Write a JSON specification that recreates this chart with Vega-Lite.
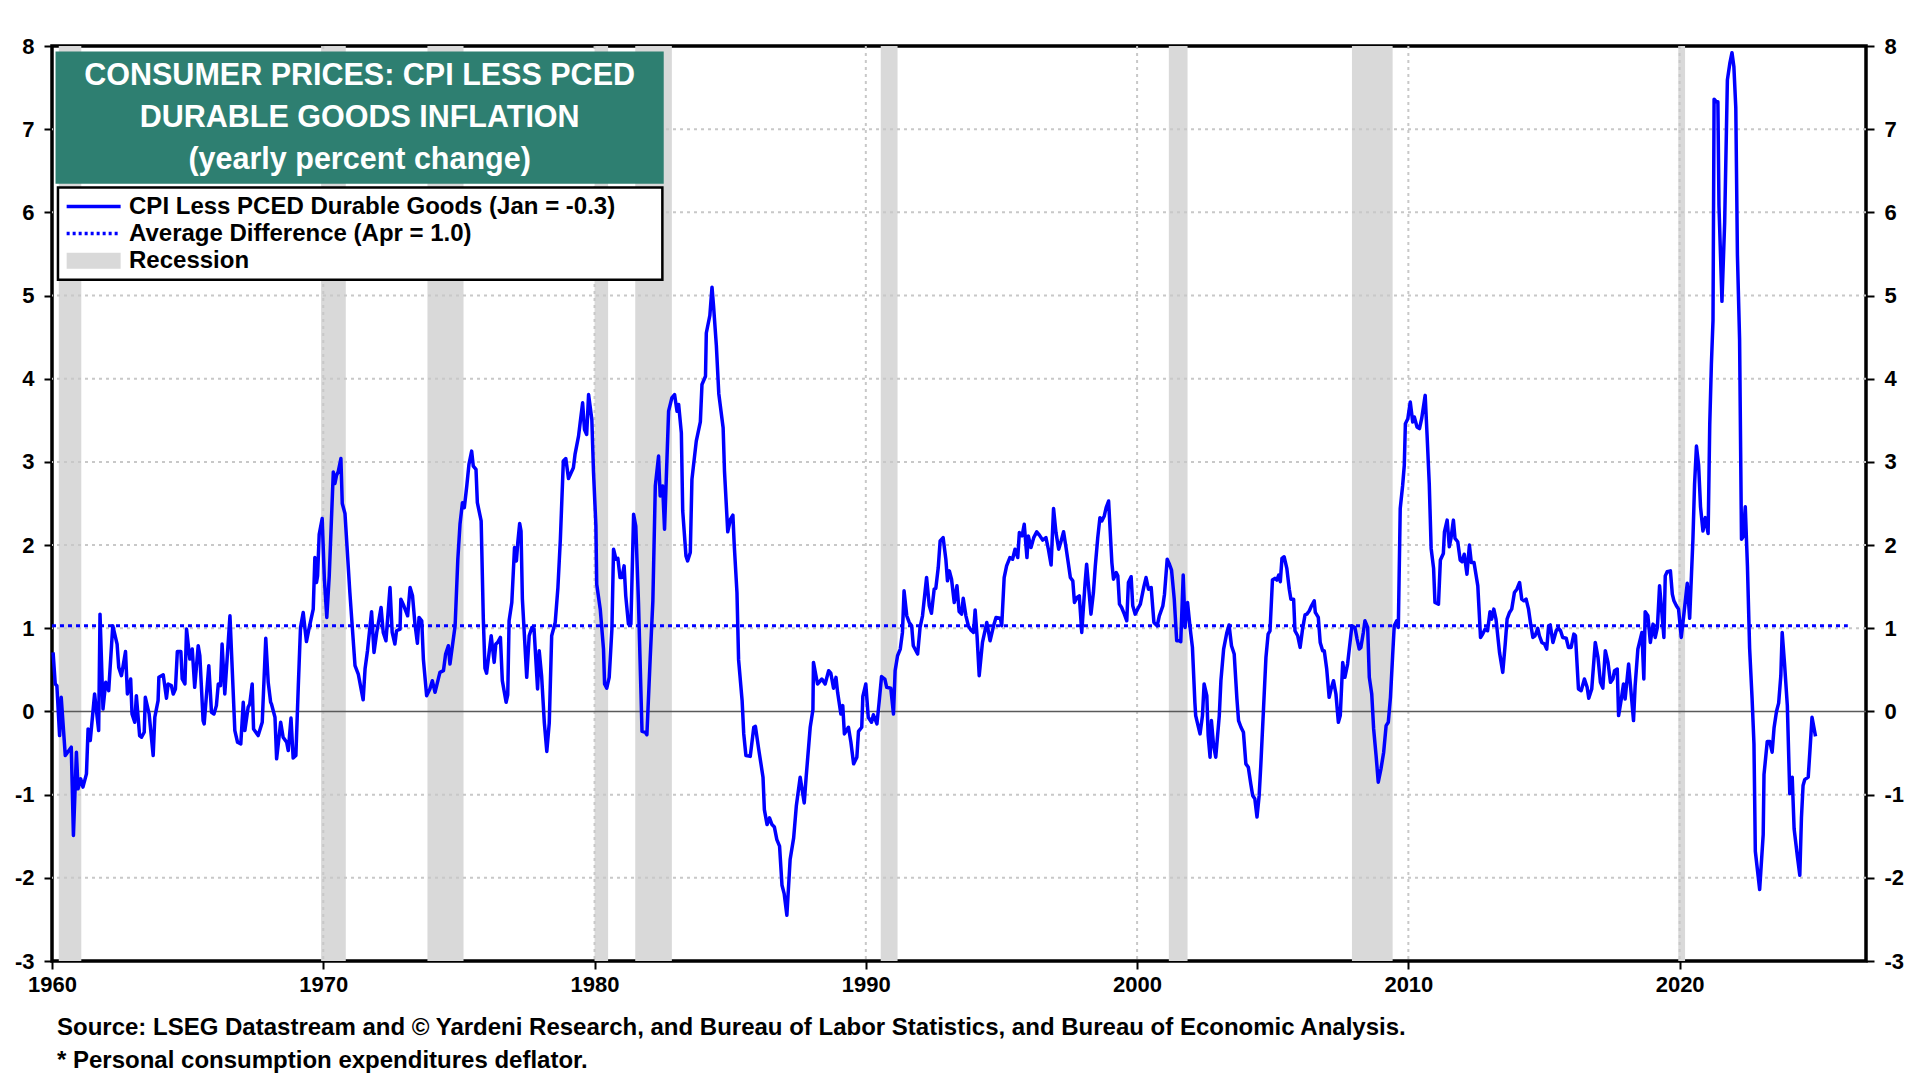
{
  "$schema": "https://vega.github.io/schema/vega-lite/v6.json",
  "width": 1814,
  "height": 915,
  "autosize": {"type": "none"},
  "padding": {"left": 52, "top": 46, "right": 54, "bottom": 119},
  "background": "white",
  "config": {
    "font": "Liberation Sans",
    "view": {"stroke": "#000000", "strokeWidth": 3.5},
    "axis": {
      "grid": false,
      "domain": false,
      "labelFlush": false,
      "labelFontSize": 22,
      "labelFontWeight": "bold",
      "labelColor": "#000000",
      "tickColor": "#000000",
      "tickWidth": 2,
      "tickSize": 8
    }
  },
  "title": {
    "text": [
      "Source: LSEG Datastream and © Yardeni Research, and Bureau of Labor Statistics, and Bureau of Economic Analysis.",
      "* Personal consumption expenditures deflator."
    ],
    "orient": "bottom",
    "anchor": "start",
    "frame": "group",
    "fontSize": 24,
    "fontWeight": "bold",
    "color": "#000000",
    "lineHeight": 33,
    "offset": 21,
    "dx": 5
  },
  "resolve": {"scale": {"y": "independent"}},
  "layer": [
    {
      "layer": [
        {
          "data": {
            "values": [
              {"start": 1960.25, "end": 1961.08},
              {"start": 1969.92, "end": 1970.83},
              {"start": 1973.84, "end": 1975.17},
              {"start": 1980.0, "end": 1980.5},
              {"start": 1981.5, "end": 1982.85},
              {"start": 1990.55, "end": 1991.17},
              {"start": 2001.17, "end": 2001.86},
              {"start": 2007.92, "end": 2009.42},
              {"start": 2019.95, "end": 2020.2}
            ]
          },
          "mark": {"type": "rect", "color": "#D9D9D9"},
          "encoding": {
            "x": {
              "field": "start",
              "type": "quantitative",
              "scale": {"domain": [1960, 2026.87], "nice": false, "zero": false},
              "axis": {
                "title": null,
                "values": [1960, 1970, 1980, 1990, 2000, 2010, 2020],
                "format": "d",
                "labelPadding": 5
              }
            },
            "x2": {"field": "end"}
          }
        },
        {
          "data": {"values": [{"g": 1970}, {"g": 1980}, {"g": 1990}, {"g": 2000}, {"g": 2010}, {"g": 2020}]},
          "mark": {"type": "rule", "color": "#C8C8C8", "strokeWidth": 2, "strokeDash": [3, 4]},
          "encoding": {"x": {"field": "g", "type": "quantitative"}}
        },
        {
          "data": {"values": [{"h": -2}, {"h": -1}, {"h": 1}, {"h": 2}, {"h": 3}, {"h": 4}, {"h": 5}, {"h": 6}, {"h": 7}]},
          "mark": {"type": "rule", "color": "#C8C8C8", "strokeWidth": 2, "strokeDash": [3, 4]},
          "encoding": {
            "y": {
              "field": "h",
              "type": "quantitative",
              "scale": {"domain": [-3, 8], "nice": false, "zero": false},
              "axis": {
                "title": null,
                "orient": "left",
                "values": [-3, -2, -1, 0, 1, 2, 3, 4, 5, 6, 7, 8],
                "labelExpr": "'' + datum.value",
                "labelPadding": 10
              }
            }
          }
        },
        {
          "data": {"values": [{}]},
          "mark": {"type": "rule", "color": "#5A5A5A", "strokeWidth": 1.5},
          "encoding": {"y": {"datum": 0}}
        },
        {
          "data": {"values": [{}]},
          "mark": {"type": "rule", "color": "#0000FF", "strokeWidth": 3, "strokeDash": [4, 4]},
          "encoding": {
            "x": {"datum": 1960},
            "x2": {"datum": 2026.2},
            "y": {"datum": 1.03}
          }
        },
        {
          "data": {
            "values": [
              {"date": 1960.04, "value": 0.71}, {"date": 1960.12, "value": 0.33}, {"date": 1960.18, "value": 0.31}, {"date": 1960.28, "value": -0.29},
              {"date": 1960.34, "value": 0.17}, {"date": 1960.49, "value": -0.53}, {"date": 1960.71, "value": -0.43}, {"date": 1960.79, "value": -1.49},
              {"date": 1960.9, "value": -0.49}, {"date": 1960.96, "value": -0.93}, {"date": 1961.06, "value": -0.81}, {"date": 1961.14, "value": -0.91},
              {"date": 1961.27, "value": -0.75}, {"date": 1961.33, "value": -0.21}, {"date": 1961.41, "value": -0.35}, {"date": 1961.57, "value": 0.21},
              {"date": 1961.72, "value": -0.23}, {"date": 1961.77, "value": 1.17}, {"date": 1961.88, "value": 0.03}, {"date": 1961.98, "value": 0.35},
              {"date": 1962.09, "value": 0.25}, {"date": 1962.24, "value": 1.03}, {"date": 1962.4, "value": 0.81}, {"date": 1962.46, "value": 0.53},
              {"date": 1962.56, "value": 0.43}, {"date": 1962.71, "value": 0.72}, {"date": 1962.78, "value": 0.21}, {"date": 1962.9, "value": 0.39},
              {"date": 1962.95, "value": -0.03}, {"date": 1963.05, "value": -0.13}, {"date": 1963.11, "value": 0.19}, {"date": 1963.23, "value": -0.29},
              {"date": 1963.3, "value": -0.31}, {"date": 1963.4, "value": -0.25}, {"date": 1963.44, "value": 0.17}, {"date": 1963.58, "value": -0.03},
              {"date": 1963.73, "value": -0.53}, {"date": 1963.79, "value": -0.07}, {"date": 1963.91, "value": 0.13}, {"date": 1963.94, "value": 0.41},
              {"date": 1964.1, "value": 0.44}, {"date": 1964.22, "value": 0.16}, {"date": 1964.28, "value": 0.33}, {"date": 1964.4, "value": 0.31},
              {"date": 1964.47, "value": 0.21}, {"date": 1964.55, "value": 0.27}, {"date": 1964.62, "value": 0.72}, {"date": 1964.75, "value": 0.72},
              {"date": 1964.8, "value": 0.39}, {"date": 1964.9, "value": 0.33}, {"date": 1964.96, "value": 0.99}, {"date": 1965.08, "value": 0.63},
              {"date": 1965.17, "value": 0.75}, {"date": 1965.26, "value": 0.29}, {"date": 1965.39, "value": 0.79}, {"date": 1965.45, "value": 0.67},
              {"date": 1965.57, "value": -0.11}, {"date": 1965.61, "value": -0.15}, {"date": 1965.78, "value": 0.55}, {"date": 1965.88, "value": -0.01},
              {"date": 1965.97, "value": -0.03}, {"date": 1966.06, "value": 0.07}, {"date": 1966.13, "value": 0.33}, {"date": 1966.21, "value": 0.31},
              {"date": 1966.27, "value": 0.81}, {"date": 1966.37, "value": 0.21}, {"date": 1966.56, "value": 1.15}, {"date": 1966.74, "value": -0.23},
              {"date": 1966.84, "value": -0.37}, {"date": 1966.96, "value": -0.39}, {"date": 1967.05, "value": 0.11}, {"date": 1967.11, "value": -0.23},
              {"date": 1967.23, "value": 0.05}, {"date": 1967.29, "value": 0.09}, {"date": 1967.38, "value": 0.33}, {"date": 1967.43, "value": -0.21},
              {"date": 1967.6, "value": -0.29}, {"date": 1967.75, "value": -0.13}, {"date": 1967.88, "value": 0.88}, {"date": 1967.97, "value": 0.35},
              {"date": 1968.06, "value": 0.11}, {"date": 1968.09, "value": 0.09}, {"date": 1968.22, "value": -0.07}, {"date": 1968.28, "value": -0.57},
              {"date": 1968.43, "value": -0.13}, {"date": 1968.52, "value": -0.31}, {"date": 1968.65, "value": -0.37}, {"date": 1968.71, "value": -0.47},
              {"date": 1968.81, "value": -0.08}, {"date": 1968.89, "value": -0.56}, {"date": 1968.99, "value": -0.53}, {"date": 1969.08, "value": 0.31},
              {"date": 1969.16, "value": 1.01}, {"date": 1969.26, "value": 1.19}, {"date": 1969.32, "value": 1.01}, {"date": 1969.38, "value": 0.84},
              {"date": 1969.47, "value": 0.99}, {"date": 1969.63, "value": 1.23}, {"date": 1969.69, "value": 1.85}, {"date": 1969.75, "value": 1.55},
              {"date": 1969.79, "value": 1.63}, {"date": 1969.85, "value": 2.13}, {"date": 1969.96, "value": 2.32}, {"date": 1970.04, "value": 1.59},
              {"date": 1970.13, "value": 1.13}, {"date": 1970.22, "value": 1.63}, {"date": 1970.37, "value": 2.88}, {"date": 1970.43, "value": 2.74},
              {"date": 1970.49, "value": 2.84}, {"date": 1970.55, "value": 2.88}, {"date": 1970.65, "value": 3.04}, {"date": 1970.7, "value": 2.5},
              {"date": 1970.8, "value": 2.38}, {"date": 1970.98, "value": 1.43}, {"date": 1971.17, "value": 0.55}, {"date": 1971.29, "value": 0.45},
              {"date": 1971.47, "value": 0.14}, {"date": 1971.54, "value": 0.51}, {"date": 1971.63, "value": 0.73}, {"date": 1971.78, "value": 1.2},
              {"date": 1971.87, "value": 0.71}, {"date": 1971.97, "value": 0.95}, {"date": 1972.13, "value": 1.25}, {"date": 1972.21, "value": 0.95},
              {"date": 1972.31, "value": 0.85}, {"date": 1972.46, "value": 1.49}, {"date": 1972.54, "value": 0.95}, {"date": 1972.64, "value": 0.81},
              {"date": 1972.7, "value": 0.97}, {"date": 1972.83, "value": 0.99}, {"date": 1972.86, "value": 1.35}, {"date": 1972.97, "value": 1.27},
              {"date": 1973.11, "value": 1.15}, {"date": 1973.2, "value": 1.49}, {"date": 1973.29, "value": 1.39}, {"date": 1973.38, "value": 1.05},
              {"date": 1973.47, "value": 0.82}, {"date": 1973.53, "value": 1.13}, {"date": 1973.63, "value": 1.09}, {"date": 1973.69, "value": 0.63},
              {"date": 1973.81, "value": 0.19}, {"date": 1973.93, "value": 0.27}, {"date": 1974.02, "value": 0.37}, {"date": 1974.12, "value": 0.23},
              {"date": 1974.3, "value": 0.47}, {"date": 1974.43, "value": 0.49}, {"date": 1974.51, "value": 0.69}, {"date": 1974.61, "value": 0.79},
              {"date": 1974.67, "value": 0.57}, {"date": 1974.86, "value": 1.03}, {"date": 1974.96, "value": 1.83}, {"date": 1975.04, "value": 2.25},
              {"date": 1975.13, "value": 2.51}, {"date": 1975.2, "value": 2.45}, {"date": 1975.29, "value": 2.71}, {"date": 1975.37, "value": 2.97},
              {"date": 1975.47, "value": 3.13}, {"date": 1975.53, "value": 2.95}, {"date": 1975.63, "value": 2.91}, {"date": 1975.68, "value": 2.51},
              {"date": 1975.82, "value": 2.29}, {"date": 1975.9, "value": 1.11}, {"date": 1975.96, "value": 0.52}, {"date": 1976.02, "value": 0.46},
              {"date": 1976.19, "value": 0.91}, {"date": 1976.3, "value": 0.59}, {"date": 1976.36, "value": 0.81}, {"date": 1976.43, "value": 0.83},
              {"date": 1976.53, "value": 0.89}, {"date": 1976.6, "value": 0.37}, {"date": 1976.74, "value": 0.11}, {"date": 1976.8, "value": 0.2},
              {"date": 1976.85, "value": 1.09}, {"date": 1976.95, "value": 1.31}, {"date": 1977.05, "value": 1.97}, {"date": 1977.12, "value": 1.81},
              {"date": 1977.17, "value": 2.03}, {"date": 1977.24, "value": 2.26}, {"date": 1977.29, "value": 2.17}, {"date": 1977.34, "value": 1.35},
              {"date": 1977.5, "value": 0.41}, {"date": 1977.59, "value": 0.91}, {"date": 1977.69, "value": 1.01}, {"date": 1977.77, "value": 0.99},
              {"date": 1977.9, "value": 0.27}, {"date": 1977.96, "value": 0.73}, {"date": 1978.05, "value": 0.42}, {"date": 1978.15, "value": -0.14},
              {"date": 1978.24, "value": -0.48}, {"date": 1978.33, "value": -0.14}, {"date": 1978.42, "value": 0.91}, {"date": 1978.55, "value": 1.07},
              {"date": 1978.65, "value": 1.49}, {"date": 1978.74, "value": 2.07}, {"date": 1978.85, "value": 3.01}, {"date": 1978.94, "value": 3.04},
              {"date": 1979.04, "value": 2.8}, {"date": 1979.22, "value": 2.93}, {"date": 1979.28, "value": 3.09}, {"date": 1979.41, "value": 3.31},
              {"date": 1979.47, "value": 3.47}, {"date": 1979.56, "value": 3.71}, {"date": 1979.63, "value": 3.39}, {"date": 1979.71, "value": 3.33},
              {"date": 1979.78, "value": 3.81}, {"date": 1979.9, "value": 3.51}, {"date": 1979.96, "value": 2.89}, {"date": 1980.05, "value": 2.23},
              {"date": 1980.08, "value": 1.53}, {"date": 1980.21, "value": 1.23}, {"date": 1980.33, "value": 0.75}, {"date": 1980.37, "value": 0.33},
              {"date": 1980.45, "value": 0.28}, {"date": 1980.54, "value": 0.41}, {"date": 1980.64, "value": 0.99}, {"date": 1980.7, "value": 1.95},
              {"date": 1980.79, "value": 1.83}, {"date": 1980.86, "value": 1.84}, {"date": 1980.94, "value": 1.61}, {"date": 1981.01, "value": 1.61},
              {"date": 1981.09, "value": 1.75}, {"date": 1981.15, "value": 1.39}, {"date": 1981.25, "value": 1.05}, {"date": 1981.34, "value": 1.05},
              {"date": 1981.44, "value": 2.37}, {"date": 1981.52, "value": 2.23}, {"date": 1981.62, "value": 1.31}, {"date": 1981.75, "value": -0.24},
              {"date": 1981.87, "value": -0.25}, {"date": 1981.93, "value": -0.28}, {"date": 1982.05, "value": 0.63}, {"date": 1982.15, "value": 1.33},
              {"date": 1982.24, "value": 2.71}, {"date": 1982.36, "value": 3.07}, {"date": 1982.42, "value": 2.59}, {"date": 1982.51, "value": 2.71},
              {"date": 1982.58, "value": 2.19}, {"date": 1982.73, "value": 3.61}, {"date": 1982.85, "value": 3.77}, {"date": 1982.95, "value": 3.81},
              {"date": 1983.04, "value": 3.61}, {"date": 1983.1, "value": 3.69}, {"date": 1983.2, "value": 3.35}, {"date": 1983.25, "value": 2.41},
              {"date": 1983.37, "value": 1.87}, {"date": 1983.43, "value": 1.81}, {"date": 1983.53, "value": 1.91}, {"date": 1983.59, "value": 2.79},
              {"date": 1983.75, "value": 3.25}, {"date": 1983.9, "value": 3.48}, {"date": 1983.96, "value": 3.93}, {"date": 1984.09, "value": 4.03},
              {"date": 1984.12, "value": 4.55}, {"date": 1984.25, "value": 4.76}, {"date": 1984.33, "value": 5.1}, {"date": 1984.39, "value": 4.86},
              {"date": 1984.49, "value": 4.4}, {"date": 1984.58, "value": 3.82}, {"date": 1984.74, "value": 3.41}, {"date": 1984.79, "value": 2.89},
              {"date": 1984.91, "value": 2.16}, {"date": 1985.01, "value": 2.31}, {"date": 1985.1, "value": 2.36}, {"date": 1985.15, "value": 2.0},
              {"date": 1985.25, "value": 1.43}, {"date": 1985.31, "value": 0.62}, {"date": 1985.44, "value": 0.13}, {"date": 1985.5, "value": -0.27},
              {"date": 1985.58, "value": -0.53}, {"date": 1985.74, "value": -0.54}, {"date": 1985.87, "value": -0.19}, {"date": 1985.93, "value": -0.18},
              {"date": 1986.05, "value": -0.45}, {"date": 1986.21, "value": -0.79}, {"date": 1986.26, "value": -1.18}, {"date": 1986.36, "value": -1.36},
              {"date": 1986.45, "value": -1.28}, {"date": 1986.54, "value": -1.36}, {"date": 1986.63, "value": -1.39}, {"date": 1986.72, "value": -1.54},
              {"date": 1986.82, "value": -1.62}, {"date": 1986.91, "value": -2.09}, {"date": 1986.99, "value": -2.19}, {"date": 1987.09, "value": -2.45},
              {"date": 1987.21, "value": -1.78}, {"date": 1987.34, "value": -1.52}, {"date": 1987.44, "value": -1.13}, {"date": 1987.58, "value": -0.79},
              {"date": 1987.73, "value": -1.1}, {"date": 1987.8, "value": -0.79}, {"date": 1987.95, "value": -0.19}, {"date": 1988.05, "value": 0.02},
              {"date": 1988.07, "value": 0.59}, {"date": 1988.22, "value": 0.33}, {"date": 1988.38, "value": 0.39}, {"date": 1988.5, "value": 0.33},
              {"date": 1988.63, "value": 0.49}, {"date": 1988.71, "value": 0.46}, {"date": 1988.81, "value": 0.28}, {"date": 1988.9, "value": 0.41},
              {"date": 1988.96, "value": 0.23}, {"date": 1989.08, "value": -0.03}, {"date": 1989.15, "value": 0.07}, {"date": 1989.21, "value": -0.27},
              {"date": 1989.36, "value": -0.19}, {"date": 1989.45, "value": -0.37}, {"date": 1989.55, "value": -0.63}, {"date": 1989.67, "value": -0.55},
              {"date": 1989.73, "value": -0.24}, {"date": 1989.85, "value": -0.19}, {"date": 1989.89, "value": 0.18}, {"date": 1990.0, "value": 0.33},
              {"date": 1990.09, "value": -0.07}, {"date": 1990.21, "value": -0.13}, {"date": 1990.28, "value": -0.04}, {"date": 1990.41, "value": -0.15},
              {"date": 1990.49, "value": 0.11}, {"date": 1990.58, "value": 0.42}, {"date": 1990.7, "value": 0.39}, {"date": 1990.77, "value": 0.29},
              {"date": 1990.92, "value": 0.28}, {"date": 1991.02, "value": -0.03}, {"date": 1991.08, "value": 0.49}, {"date": 1991.17, "value": 0.67},
              {"date": 1991.27, "value": 0.75}, {"date": 1991.35, "value": 0.95}, {"date": 1991.41, "value": 1.45}, {"date": 1991.51, "value": 1.15},
              {"date": 1991.6, "value": 1.07}, {"date": 1991.69, "value": 1.03}, {"date": 1991.75, "value": 0.79}, {"date": 1991.91, "value": 0.69},
              {"date": 1992.0, "value": 1.01}, {"date": 1992.09, "value": 1.15}, {"date": 1992.24, "value": 1.61}, {"date": 1992.34, "value": 1.27},
              {"date": 1992.42, "value": 1.18}, {"date": 1992.52, "value": 1.47}, {"date": 1992.58, "value": 1.48}, {"date": 1992.67, "value": 1.73},
              {"date": 1992.74, "value": 2.05}, {"date": 1992.85, "value": 2.09}, {"date": 1992.95, "value": 1.83}, {"date": 1993.01, "value": 1.57},
              {"date": 1993.08, "value": 1.69}, {"date": 1993.16, "value": 1.59}, {"date": 1993.26, "value": 1.31}, {"date": 1993.36, "value": 1.51},
              {"date": 1993.44, "value": 1.2}, {"date": 1993.53, "value": 1.17}, {"date": 1993.59, "value": 1.36}, {"date": 1993.69, "value": 1.15},
              {"date": 1993.78, "value": 1.03}, {"date": 1993.87, "value": 0.98}, {"date": 1993.97, "value": 0.95}, {"date": 1994.03, "value": 1.22},
              {"date": 1994.1, "value": 0.91}, {"date": 1994.18, "value": 0.43}, {"date": 1994.3, "value": 0.83}, {"date": 1994.46, "value": 1.07},
              {"date": 1994.58, "value": 0.85}, {"date": 1994.71, "value": 1.03}, {"date": 1994.8, "value": 1.13}, {"date": 1994.96, "value": 1.12},
              {"date": 1995.01, "value": 1.03}, {"date": 1995.1, "value": 1.61}, {"date": 1995.19, "value": 1.75}, {"date": 1995.31, "value": 1.85},
              {"date": 1995.41, "value": 1.83}, {"date": 1995.5, "value": 1.95}, {"date": 1995.6, "value": 1.85}, {"date": 1995.66, "value": 2.15},
              {"date": 1995.76, "value": 2.11}, {"date": 1995.84, "value": 2.25}, {"date": 1995.94, "value": 1.85}, {"date": 1995.99, "value": 2.11},
              {"date": 1996.09, "value": 1.97}, {"date": 1996.19, "value": 2.09}, {"date": 1996.3, "value": 2.16}, {"date": 1996.4, "value": 2.12},
              {"date": 1996.52, "value": 2.06}, {"date": 1996.64, "value": 2.09}, {"date": 1996.73, "value": 1.95}, {"date": 1996.83, "value": 1.76},
              {"date": 1996.92, "value": 2.44}, {"date": 1997.01, "value": 2.15}, {"date": 1997.11, "value": 1.95}, {"date": 1997.2, "value": 2.05},
              {"date": 1997.29, "value": 2.16}, {"date": 1997.38, "value": 1.97}, {"date": 1997.47, "value": 1.77}, {"date": 1997.54, "value": 1.61},
              {"date": 1997.63, "value": 1.57}, {"date": 1997.69, "value": 1.31}, {"date": 1997.79, "value": 1.37}, {"date": 1997.87, "value": 1.39},
              {"date": 1997.96, "value": 0.95}, {"date": 1998.08, "value": 1.53}, {"date": 1998.14, "value": 1.77}, {"date": 1998.3, "value": 1.17},
              {"date": 1998.39, "value": 1.43}, {"date": 1998.46, "value": 1.75}, {"date": 1998.55, "value": 2.09}, {"date": 1998.63, "value": 2.33},
              {"date": 1998.7, "value": 2.29}, {"date": 1998.79, "value": 2.35}, {"date": 1998.86, "value": 2.45}, {"date": 1998.95, "value": 2.53},
              {"date": 1999.07, "value": 1.79}, {"date": 1999.13, "value": 1.59}, {"date": 1999.23, "value": 1.67}, {"date": 1999.29, "value": 1.63},
              {"date": 1999.35, "value": 1.29}, {"date": 1999.43, "value": 1.25}, {"date": 1999.53, "value": 1.17}, {"date": 1999.62, "value": 1.09},
              {"date": 1999.68, "value": 1.55}, {"date": 1999.78, "value": 1.62}, {"date": 1999.84, "value": 1.27}, {"date": 1999.93, "value": 1.17},
              {"date": 2000.02, "value": 1.23}, {"date": 2000.12, "value": 1.29}, {"date": 2000.25, "value": 1.5}, {"date": 2000.33, "value": 1.61},
              {"date": 2000.42, "value": 1.47}, {"date": 2000.52, "value": 1.49}, {"date": 2000.62, "value": 1.07}, {"date": 2000.74, "value": 1.03},
              {"date": 2000.82, "value": 1.15}, {"date": 2000.95, "value": 1.27}, {"date": 2001.01, "value": 1.41}, {"date": 2001.11, "value": 1.83},
              {"date": 2001.18, "value": 1.78}, {"date": 2001.27, "value": 1.7}, {"date": 2001.37, "value": 1.35}, {"date": 2001.46, "value": 0.85},
              {"date": 2001.55, "value": 0.85}, {"date": 2001.61, "value": 0.84}, {"date": 2001.7, "value": 1.64}, {"date": 2001.77, "value": 1.01},
              {"date": 2001.86, "value": 1.31}, {"date": 2001.96, "value": 0.99}, {"date": 2002.04, "value": 0.77}, {"date": 2002.13, "value": 0.11},
              {"date": 2002.16, "value": -0.05}, {"date": 2002.32, "value": -0.27}, {"date": 2002.41, "value": -0.05}, {"date": 2002.47, "value": 0.33},
              {"date": 2002.57, "value": 0.19}, {"date": 2002.62, "value": -0.29}, {"date": 2002.69, "value": -0.55}, {"date": 2002.74, "value": -0.11},
              {"date": 2002.82, "value": -0.41}, {"date": 2002.9, "value": -0.55}, {"date": 2003.03, "value": -0.05}, {"date": 2003.09, "value": 0.37},
              {"date": 2003.19, "value": 0.75}, {"date": 2003.31, "value": 0.95}, {"date": 2003.39, "value": 1.04}, {"date": 2003.48, "value": 0.79},
              {"date": 2003.58, "value": 0.69}, {"date": 2003.68, "value": 0.15}, {"date": 2003.74, "value": -0.11}, {"date": 2003.83, "value": -0.19},
              {"date": 2003.92, "value": -0.25}, {"date": 2004.01, "value": -0.63}, {"date": 2004.1, "value": -0.67}, {"date": 2004.19, "value": -0.87},
              {"date": 2004.26, "value": -1.01}, {"date": 2004.34, "value": -1.05}, {"date": 2004.42, "value": -1.27}, {"date": 2004.5, "value": -1.01},
              {"date": 2004.56, "value": -0.65}, {"date": 2004.66, "value": 0.03}, {"date": 2004.75, "value": 0.65}, {"date": 2004.83, "value": 0.93},
              {"date": 2004.9, "value": 0.97}, {"date": 2004.99, "value": 1.58}, {"date": 2005.08, "value": 1.6}, {"date": 2005.15, "value": 1.58},
              {"date": 2005.22, "value": 1.64}, {"date": 2005.28, "value": 1.56}, {"date": 2005.34, "value": 1.84}, {"date": 2005.42, "value": 1.86},
              {"date": 2005.52, "value": 1.72}, {"date": 2005.61, "value": 1.47}, {"date": 2005.67, "value": 1.35}, {"date": 2005.77, "value": 1.35},
              {"date": 2005.82, "value": 0.97}, {"date": 2005.92, "value": 0.91}, {"date": 2006.01, "value": 0.77}, {"date": 2006.1, "value": 0.99},
              {"date": 2006.19, "value": 1.16}, {"date": 2006.26, "value": 1.17}, {"date": 2006.35, "value": 1.21}, {"date": 2006.43, "value": 1.27},
              {"date": 2006.53, "value": 1.33}, {"date": 2006.57, "value": 1.19}, {"date": 2006.68, "value": 1.13}, {"date": 2006.75, "value": 0.83},
              {"date": 2006.84, "value": 0.73}, {"date": 2006.9, "value": 0.73}, {"date": 2006.99, "value": 0.51}, {"date": 2007.08, "value": 0.17},
              {"date": 2007.15, "value": 0.27}, {"date": 2007.24, "value": 0.37}, {"date": 2007.33, "value": 0.21}, {"date": 2007.42, "value": -0.13},
              {"date": 2007.49, "value": -0.05}, {"date": 2007.58, "value": 0.59}, {"date": 2007.66, "value": 0.41}, {"date": 2007.76, "value": 0.57},
              {"date": 2007.85, "value": 0.83}, {"date": 2007.92, "value": 1.03}, {"date": 2008.03, "value": 1.01}, {"date": 2008.11, "value": 0.87},
              {"date": 2008.19, "value": 0.75}, {"date": 2008.25, "value": 0.77}, {"date": 2008.34, "value": 0.95}, {"date": 2008.4, "value": 1.09},
              {"date": 2008.5, "value": 1.01}, {"date": 2008.56, "value": 0.41}, {"date": 2008.65, "value": 0.21}, {"date": 2008.72, "value": -0.21},
              {"date": 2008.81, "value": -0.53}, {"date": 2008.89, "value": -0.85}, {"date": 2008.99, "value": -0.69}, {"date": 2009.09, "value": -0.49},
              {"date": 2009.18, "value": -0.17}, {"date": 2009.26, "value": -0.13}, {"date": 2009.34, "value": 0.17}, {"date": 2009.42, "value": 0.67},
              {"date": 2009.48, "value": 1.03}, {"date": 2009.57, "value": 1.09}, {"date": 2009.63, "value": 1.01}, {"date": 2009.7, "value": 2.44},
              {"date": 2009.79, "value": 2.72}, {"date": 2009.85, "value": 2.96}, {"date": 2009.89, "value": 3.46}, {"date": 2009.98, "value": 3.52},
              {"date": 2010.07, "value": 3.72}, {"date": 2010.16, "value": 3.48}, {"date": 2010.22, "value": 3.54}, {"date": 2010.32, "value": 3.42},
              {"date": 2010.41, "value": 3.4}, {"date": 2010.49, "value": 3.52}, {"date": 2010.62, "value": 3.8}, {"date": 2010.69, "value": 3.32},
              {"date": 2010.77, "value": 2.74}, {"date": 2010.84, "value": 1.96}, {"date": 2010.93, "value": 1.72}, {"date": 2010.98, "value": 1.31},
              {"date": 2011.11, "value": 1.29}, {"date": 2011.18, "value": 1.82}, {"date": 2011.29, "value": 1.9}, {"date": 2011.33, "value": 2.16},
              {"date": 2011.43, "value": 2.3}, {"date": 2011.51, "value": 1.98}, {"date": 2011.57, "value": 2.08}, {"date": 2011.66, "value": 2.3},
              {"date": 2011.72, "value": 2.08}, {"date": 2011.82, "value": 2.04}, {"date": 2011.91, "value": 1.82}, {"date": 2011.98, "value": 1.8},
              {"date": 2012.06, "value": 1.89}, {"date": 2012.16, "value": 1.65}, {"date": 2012.25, "value": 2.0}, {"date": 2012.32, "value": 1.79},
              {"date": 2012.42, "value": 1.79}, {"date": 2012.56, "value": 1.51}, {"date": 2012.66, "value": 0.89}, {"date": 2012.74, "value": 0.93},
              {"date": 2012.83, "value": 0.99}, {"date": 2012.92, "value": 0.97}, {"date": 2013.01, "value": 1.2}, {"date": 2013.07, "value": 1.11},
              {"date": 2013.15, "value": 1.23}, {"date": 2013.23, "value": 1.11}, {"date": 2013.36, "value": 0.71}, {"date": 2013.48, "value": 0.47},
              {"date": 2013.57, "value": 0.81}, {"date": 2013.64, "value": 1.11}, {"date": 2013.73, "value": 1.19}, {"date": 2013.81, "value": 1.23},
              {"date": 2013.91, "value": 1.43}, {"date": 2014.0, "value": 1.47}, {"date": 2014.1, "value": 1.55}, {"date": 2014.18, "value": 1.35},
              {"date": 2014.26, "value": 1.33}, {"date": 2014.34, "value": 1.35}, {"date": 2014.43, "value": 1.23}, {"date": 2014.5, "value": 1.07},
              {"date": 2014.59, "value": 0.89}, {"date": 2014.67, "value": 0.91}, {"date": 2014.77, "value": 1.0}, {"date": 2014.83, "value": 0.91},
              {"date": 2014.92, "value": 0.83}, {"date": 2015.02, "value": 0.81}, {"date": 2015.1, "value": 0.75}, {"date": 2015.17, "value": 1.03},
              {"date": 2015.23, "value": 1.04}, {"date": 2015.33, "value": 0.83}, {"date": 2015.45, "value": 0.97}, {"date": 2015.53, "value": 1.0},
              {"date": 2015.61, "value": 0.97}, {"date": 2015.69, "value": 0.89}, {"date": 2015.82, "value": 0.88}, {"date": 2015.9, "value": 0.77},
              {"date": 2016.0, "value": 0.77}, {"date": 2016.1, "value": 0.93}, {"date": 2016.16, "value": 0.91}, {"date": 2016.27, "value": 0.27},
              {"date": 2016.37, "value": 0.25}, {"date": 2016.49, "value": 0.39}, {"date": 2016.59, "value": 0.29}, {"date": 2016.65, "value": 0.16},
              {"date": 2016.76, "value": 0.27}, {"date": 2016.89, "value": 0.83}, {"date": 2016.99, "value": 0.65}, {"date": 2017.08, "value": 0.35},
              {"date": 2017.17, "value": 0.28}, {"date": 2017.26, "value": 0.73}, {"date": 2017.36, "value": 0.59}, {"date": 2017.45, "value": 0.35},
              {"date": 2017.54, "value": 0.39}, {"date": 2017.6, "value": 0.49}, {"date": 2017.7, "value": 0.51}, {"date": 2017.75, "value": -0.05},
              {"date": 2017.85, "value": 0.15}, {"date": 2017.93, "value": 0.33}, {"date": 2017.99, "value": 0.15}, {"date": 2018.12, "value": 0.57},
              {"date": 2018.22, "value": 0.19}, {"date": 2018.3, "value": -0.11}, {"date": 2018.36, "value": 0.31}, {"date": 2018.46, "value": 0.75},
              {"date": 2018.52, "value": 0.83}, {"date": 2018.61, "value": 0.95}, {"date": 2018.68, "value": 0.39}, {"date": 2018.73, "value": 1.2},
              {"date": 2018.83, "value": 1.15}, {"date": 2018.92, "value": 0.83}, {"date": 2019.02, "value": 1.05}, {"date": 2019.1, "value": 0.89},
              {"date": 2019.18, "value": 1.01}, {"date": 2019.26, "value": 1.51}, {"date": 2019.35, "value": 1.17}, {"date": 2019.42, "value": 0.89},
              {"date": 2019.47, "value": 1.63}, {"date": 2019.54, "value": 1.68}, {"date": 2019.66, "value": 1.69}, {"date": 2019.73, "value": 1.41},
              {"date": 2019.79, "value": 1.33}, {"date": 2019.88, "value": 1.27}, {"date": 2019.96, "value": 1.23}, {"date": 2020.06, "value": 0.89},
              {"date": 2020.16, "value": 1.18}, {"date": 2020.28, "value": 1.54}, {"date": 2020.37, "value": 1.12}, {"date": 2020.49, "value": 2.07},
              {"date": 2020.55, "value": 2.73}, {"date": 2020.62, "value": 3.19}, {"date": 2020.7, "value": 2.96}, {"date": 2020.77, "value": 2.46},
              {"date": 2020.86, "value": 2.17}, {"date": 2020.95, "value": 2.33}, {"date": 2021.05, "value": 2.14}, {"date": 2021.11, "value": 3.45},
              {"date": 2021.17, "value": 4.17}, {"date": 2021.23, "value": 4.7}, {"date": 2021.27, "value": 7.36}, {"date": 2021.35, "value": 7.33},
              {"date": 2021.41, "value": 7.33}, {"date": 2021.45, "value": 6.08}, {"date": 2021.56, "value": 4.93}, {"date": 2021.66, "value": 5.88},
              {"date": 2021.76, "value": 7.59}, {"date": 2021.85, "value": 7.79}, {"date": 2021.93, "value": 7.92}, {"date": 2022.0, "value": 7.75},
              {"date": 2022.07, "value": 7.26}, {"date": 2022.13, "value": 5.49}, {"date": 2022.21, "value": 4.47}, {"date": 2022.28, "value": 2.07},
              {"date": 2022.34, "value": 2.1}, {"date": 2022.42, "value": 2.46}, {"date": 2022.5, "value": 1.74}, {"date": 2022.58, "value": 0.76},
              {"date": 2022.67, "value": 0.16}, {"date": 2022.74, "value": -0.39}, {"date": 2022.79, "value": -1.68}, {"date": 2022.95, "value": -2.14},
              {"date": 2023.08, "value": -1.48}, {"date": 2023.11, "value": -0.76}, {"date": 2023.23, "value": -0.36}, {"date": 2023.32, "value": -0.36},
              {"date": 2023.41, "value": -0.49}, {"date": 2023.48, "value": -0.2}, {"date": 2023.57, "value": 0.0}, {"date": 2023.65, "value": 0.1},
              {"date": 2023.73, "value": 0.43}, {"date": 2023.78, "value": 0.95}, {"date": 2023.87, "value": 0.56}, {"date": 2023.97, "value": 0.07},
              {"date": 2024.06, "value": -0.99}, {"date": 2024.15, "value": -0.79}, {"date": 2024.22, "value": -1.41}, {"date": 2024.34, "value": -1.74},
              {"date": 2024.43, "value": -1.97}, {"date": 2024.49, "value": -1.28}, {"date": 2024.55, "value": -0.89}, {"date": 2024.61, "value": -0.82},
              {"date": 2024.74, "value": -0.79}, {"date": 2024.8, "value": -0.49}, {"date": 2024.88, "value": -0.07}, {"date": 2025.01, "value": -0.3}
            ]
          },
          "mark": {"type": "line", "color": "#0000FF", "strokeWidth": 3.5, "strokeJoin": "round"},
          "encoding": {
            "x": {"field": "date", "type": "quantitative"},
            "y": {"field": "value", "type": "quantitative"}
          }
        },
        {
          "data": {"values": [{}]},
          "mark": {"type": "rect", "color": "#2E7F71"},
          "encoding": {
            "x": {"datum": 1960.13},
            "x2": {"datum": 1982.55},
            "y": {"datum": 7.935},
            "y2": {"datum": 6.345}
          }
        },
        {
          "data": {"values": [{}]},
          "mark": {
            "type": "text",
            "text": ["CONSUMER PRICES: CPI LESS PCED", "DURABLE GOODS INFLATION", "(yearly percent change)"],
            "color": "#FFFFFF",
            "fontSize": 30.5,
            "fontWeight": "bold",
            "lineHeight": 42,
            "align": "center",
            "baseline": "middle"
          },
          "encoding": {
            "x": {"datum": 1971.34},
            "y": {"datum": 7.64}
          }
        },
        {
          "data": {"values": [{}]},
          "mark": {"type": "rect", "fill": "#FFFFFF", "stroke": "#000000", "strokeWidth": 2.5},
          "encoding": {
            "x": {"datum": 1960.22},
            "x2": {"datum": 1982.5},
            "y": {"datum": 6.3},
            "y2": {"datum": 5.19}
          }
        },
        {
          "data": {"values": [{}]},
          "mark": {"type": "rule", "color": "#0000FF", "strokeWidth": 3.5},
          "encoding": {
            "x": {"datum": 1960.54},
            "x2": {"datum": 1962.53},
            "y": {"datum": 6.07}
          }
        },
        {
          "data": {"values": [{}]},
          "mark": {"type": "rule", "color": "#0000FF", "strokeWidth": 3.5, "strokeDash": [3, 3]},
          "encoding": {
            "x": {"datum": 1960.54},
            "x2": {"datum": 1962.53},
            "y": {"datum": 5.745}
          }
        },
        {
          "data": {"values": [{}]},
          "mark": {"type": "rect", "color": "#D9D9D9"},
          "encoding": {
            "x": {"datum": 1960.54},
            "x2": {"datum": 1962.53},
            "y": {"datum": 5.515},
            "y2": {"datum": 5.323}
          }
        },
        {
          "data": {"values": [{}]},
          "mark": {
            "type": "text",
            "text": ["CPI Less PCED Durable Goods (Jan = -0.3)", "Average Difference (Apr = 1.0)", "Recession"],
            "color": "#000000",
            "fontSize": 24,
            "fontWeight": "bold",
            "lineHeight": 27,
            "align": "left",
            "baseline": "middle"
          },
          "encoding": {
            "x": {"datum": 1962.84},
            "y": {"datum": 6.065}
          }
        }
      ]
    },
    {
      "data": {"values": [{"v": 0}]},
      "mark": {"type": "point", "opacity": 0},
      "encoding": {
        "y": {
          "field": "v",
          "type": "quantitative",
          "scale": {"domain": [-3, 8], "nice": false, "zero": false},
          "axis": {
            "title": null,
            "orient": "right",
            "values": [-3, -2, -1, 0, 1, 2, 3, 4, 5, 6, 7, 8],
            "labelExpr": "'' + datum.value",
            "labelPadding": 10
          }
        }
      }
    }
  ]
}
